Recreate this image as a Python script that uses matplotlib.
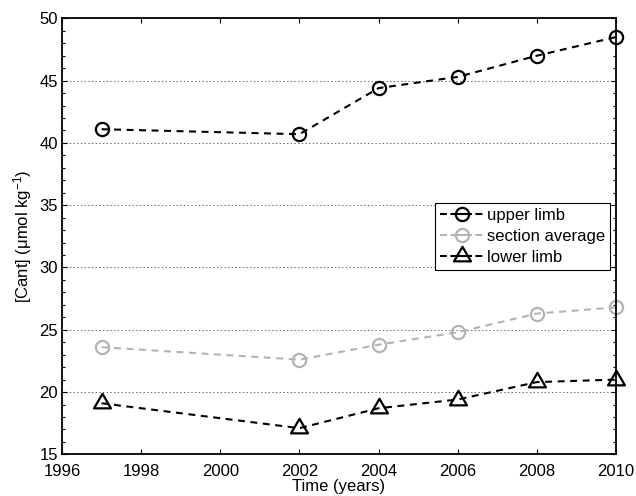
import matplotlib
matplotlib.use("Agg")
import matplotlib.pyplot as plt
from matplotlib.path import Path
from matplotlib.lines import Line2D
import numpy as np

years = [1997, 2002, 2004, 2006, 2008, 2010]
upper_limb = [41.1, 40.7, 44.4, 45.3, 47.0, 48.5]
section_average = [23.6, 22.6, 23.8, 24.8, 26.3, 26.8]
lower_limb = [19.1, 17.1, 18.7, 19.4, 20.8, 21.0]
labels = ['upper limb', 'section average', 'lower limb']

plt.rcParams['font.family'] = ['Liberation Sans', 'DejaVu Sans']
plt.rcParams['mathtext.fontset'] = 'custom'
plt.rcParams['mathtext.rm'] = 'Liberation Sans'
plt.rcParams['mathtext.it'] = 'Liberation Sans'
plt.rcParams['lines.scale_dashes'] = False

# triangle centred on its centroid, like the matlab marker
tri = Path([(0, 1), (-0.87, -0.5), (0.87, -0.5), (0, 1)],
           [Path.MOVETO, Path.LINETO, Path.LINETO, Path.CLOSEPOLY])

gray = '0.7'
dash = (5, 4)
fs = 12


def line_plot():
    fig = plt.figure(figsize=(6.36, 4.96), dpi=100)
    ax = fig.add_axes([0.0975, 0.084, 0.871, 0.879])

    styles = [dict(color='k', marker='o', ms=9.5),
              dict(color=gray, marker='o', ms=9.5),
              dict(color='k', marker=tri, ms=14)]
    series = [upper_limb, section_average, lower_limb]
    for vals, st in zip(series, styles):
        ax.plot(years, vals, linestyle='--', dashes=dash, lw=1.5,
                color=st['color'], marker=st['marker'], ms=st['ms'],
                mfc='none', mec=st['color'], mew=1.6, clip_on=False)

    ax.set_xlim(1996, 2010)
    ax.set_ylim(15, 50)
    ax.set_xticks(np.arange(1996, 2011, 2))
    ax.set_yticks(np.arange(15, 51, 5))
    ax.set_yticks(np.arange(15, 51, 1), minor=True)
    ax.yaxis.grid(True, which='major', linestyle=':', color='0.3', lw=0.6)
    ax.tick_params(which='both', direction='in', top=True, right=True,
                   labelsize=fs, width=0.8)
    ax.tick_params(which='major', length=3.6)
    ax.tick_params(which='minor', length=2.5)
    ax.tick_params(axis='x', pad=7)
    ax.tick_params(axis='y', pad=3)
    for s in ax.spines.values():
        s.set_linewidth(1.3)

    ax.set_xlabel('Time (years)', fontsize=fs, labelpad=0)
    ax.set_ylabel(r'[Cant] ($\mathregular{\mu}$mol kg$^{-1}$)', fontsize=fs)

    # legend proxies: short dash, marker with line through, short dash
    leg_dash = (5, 2.5, 15.5, 2.5, 5, 30)
    handles = []
    for st in styles:
        handles.append(Line2D([], [], color=st['color'], lw=1.5,
                              linestyle='--', dashes=leg_dash,
                              marker=st['marker'], ms=st['ms'], mfc='none',
                              mec=st['color'], mew=1.6))
    leg = ax.legend(handles, labels, loc='upper right',
                    bbox_to_anchor=(0.989, 0.576), borderaxespad=0,
                    fontsize=fs, handlelength=2.6, handletextpad=0.18,
                    labelspacing=0.35, borderpad=0.3, fancybox=False,
                    framealpha=1, edgecolor='k')
    leg.get_frame().set_linewidth(0.8)

    fig.savefig('out.png', dpi=100)


def main():
    line_plot()


if __name__ == "__main__":
    main()
